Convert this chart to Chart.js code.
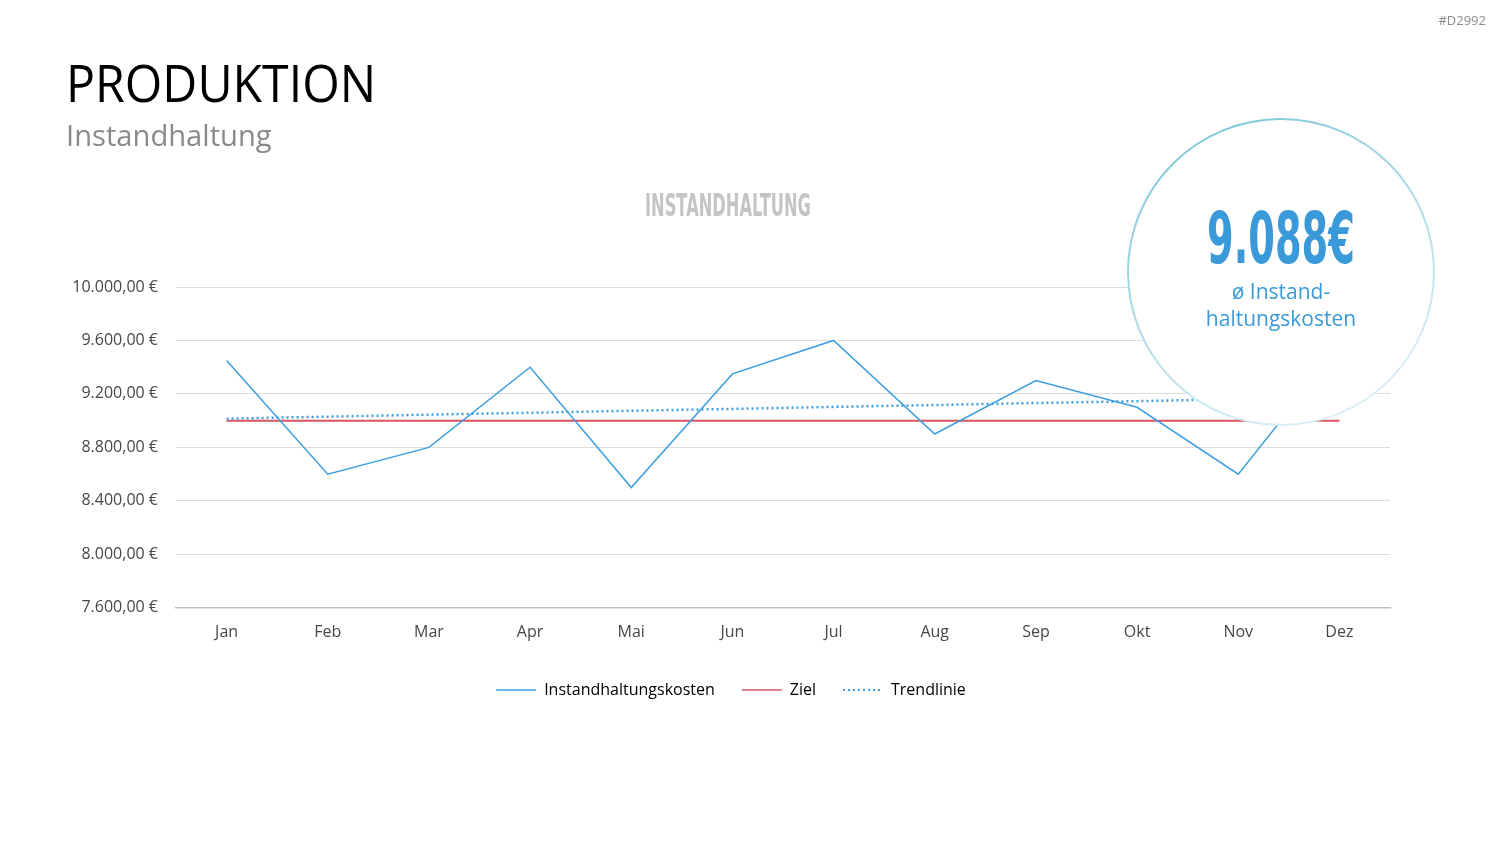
<!DOCTYPE html>
<html>
<head>
<meta charset="utf-8">
<script src="https://cdn.jsdelivr.net/npm/chart.js@4"></script>
<style>
  html, body { margin: 0; padding: 0; background: #fff; }
  body { width: 1500px; height: 844px; position: relative; overflow: hidden; font-family: "Open Sans", sans-serif; }
  #chart { position: absolute; left: 0; top: 0; }
  .txt { position: absolute; white-space: nowrap; transform-origin: 0 0; }
  #ref { right: 14px; top: 11px; font-size: 13px; color: #8c8c8c; }
  #head { left: 66px; top: 46px; font-size: 52px; color: #000; }
  #sub { left: 66px; top: 114px; font-size: 30px; color: #8a8a8a; }
  #ctitle { top: 186px; font-family: "DejaVu Sans", sans-serif; font-weight: bold; font-size: 32px; color: #c4c4c4; }
  #circle {
    position: absolute; left: 1127px; top: 118px; width: 304px; height: 304px; border-radius: 50%;
    border: 2px solid transparent;
    background: linear-gradient(#fff, #fff) padding-box, linear-gradient(155deg, #74c2d6, #eaf6fa) border-box;
  }
  #kpi { top: 196px; font-family: "DejaVu Sans", sans-serif; font-weight: bold; font-size: 72px; color: #3a9ad9; }
  #kpisub { left: 1131px; width: 300px; top: 278px; text-align: center; font-size: 21px; line-height: 27px; color: #3a9ad9; white-space: normal; }
</style>
</head>
<body>
<canvas id="chart" width="1500" height="844"></canvas>
<div class="txt" id="ref">#D2992</div>
<div class="txt" id="head">PRODUKTION</div>
<div class="txt" id="sub">Instandhaltung</div>
<div class="txt" id="ctitle">INSTANDHALTUNG</div>
<div id="circle"></div>
<div class="txt" id="kpi">9.088€</div>
<div class="txt" id="kpisub">ø Instand-<br>haltungskosten</div>
<script>
const months = ['Jan', 'Feb', 'Mar', 'Apr', 'Mai', 'Jun', 'Jul', 'Aug', 'Sep', 'Okt', 'Nov', 'Dez'];
const kosten = [9450, 8600, 8800, 9400, 8500, 9350, 9600, 8900, 9300, 9100, 8600, 9550];
const ziel = [9000, 9000, 9000, 9000, 9000, 9000, 9000, 9000, 9000, 9000, 9000, 9000];
const trend = [9015, 9030, 9045, 9059, 9074, 9088, 9103, 9117, 9132, 9146, 9161, 9175];
const yTicks = [7600, 8000, 8400, 8800, 9200, 9600, 10000];

function euro(v) {
    const int = Math.round(v).toString().replace(/\B(?=(\d{3})+(?!\d))/g, '.');
    return int + ',00 €';
}

// squeeze text boxes to the widths seen in the picture
function fit(id, width, centerX) {
    const el = document.getElementById(id);
    const w = el.offsetWidth;
    const s = width / w;
    el.style.transform = 'scaleX(' + s + ')';
    if (centerX !== undefined) el.style.left = (centerX - width / 2) + 'px';
}
fit('head', 310);
fit('sub', 206);
fit('ctitle', 166, 728);
fit('kpi', 148, 1281);

const blue = '#3d9fe0';

// the legend sits a bit right of the plot centre in the original
const legendShift = {
    id: 'legendShift',
    afterLayout(chart) {
        chart.legend.left += 36;
        chart.legend.right += 36;
    }
};

new Chart(document.getElementById('chart'), {
    type: 'line',
    data: {
        labels: months,
        datasets: [
            {
                label: 'Instandhaltungskosten',
                data: kosten,
                borderColor: blue,
                backgroundColor: blue,
                borderWidth: 1.5,
                pointRadius: 0,
                tension: 0,
                order: 1
            },
            {
                label: 'Ziel',
                data: ziel,
                borderColor: '#d9545f',
                backgroundColor: '#d9545f',
                borderWidth: 2,
                pointRadius: 0,
                order: 3
            },
            {
                label: 'Trendlinie',
                data: trend,
                borderColor: blue,
                backgroundColor: blue,
                borderWidth: 2.5,
                borderDash: [2, 3],
                pointRadius: 0,
                order: 2
            }
        ]
    },
    options: {
        responsive: false,
        animation: false,
        layout: { padding: { left: 0, right: 110, top: 287, bottom: 136 } },
        scales: {
            x: {
                offset: true,
                afterFit: (axis) => { axis.height -= 2; },
                grid: { display: false, drawTicks: false },
                border: { color: '#bfbfbf', width: 1.5 },
                ticks: { color: '#474747', font: { family: 'Open Sans', size: 16 }, padding: 15 }
            },
            y: {
                min: 7600,
                max: 10000,
                afterBuildTicks: (axis) => { axis.ticks = yTicks.map(v => ({ value: v })); },
                afterFit: (axis) => { axis.width = 176; },
                grid: { color: '#dcdcdc', drawTicks: false },
                border: { display: false },
                ticks: { color: '#474747', font: { family: 'Open Sans', size: 16 }, padding: 18, callback: (v) => euro(v) }
            }
        },
        plugins: {
            title: { display: false },
            tooltip: { enabled: false },
            legend: {
                position: 'bottom',
                labels: {
                    color: '#404040',
                    font: { family: 'Open Sans', size: 16 },
                    usePointStyle: true,
                    pointStyle: 'line',
                    pointStyleWidth: 40,
                    boxWidth: 40,
                    padding: 27,
                    generateLabels: (chart) => chart.data.datasets.map((ds, i) => ({
                        text: ds.label,
                        strokeStyle: ds.borderColor,
                        fillStyle: ds.borderColor,
                        lineWidth: ds.borderWidth > 2 ? 2 : 1.5,
                        lineDash: ds.borderDash || [],
                        pointStyle: 'line',
                        datasetIndex: i,
                        hidden: false
                    }))
                }
            }
        }
    },
    plugins: [legendShift]
});
</script>
</body>
</html>
